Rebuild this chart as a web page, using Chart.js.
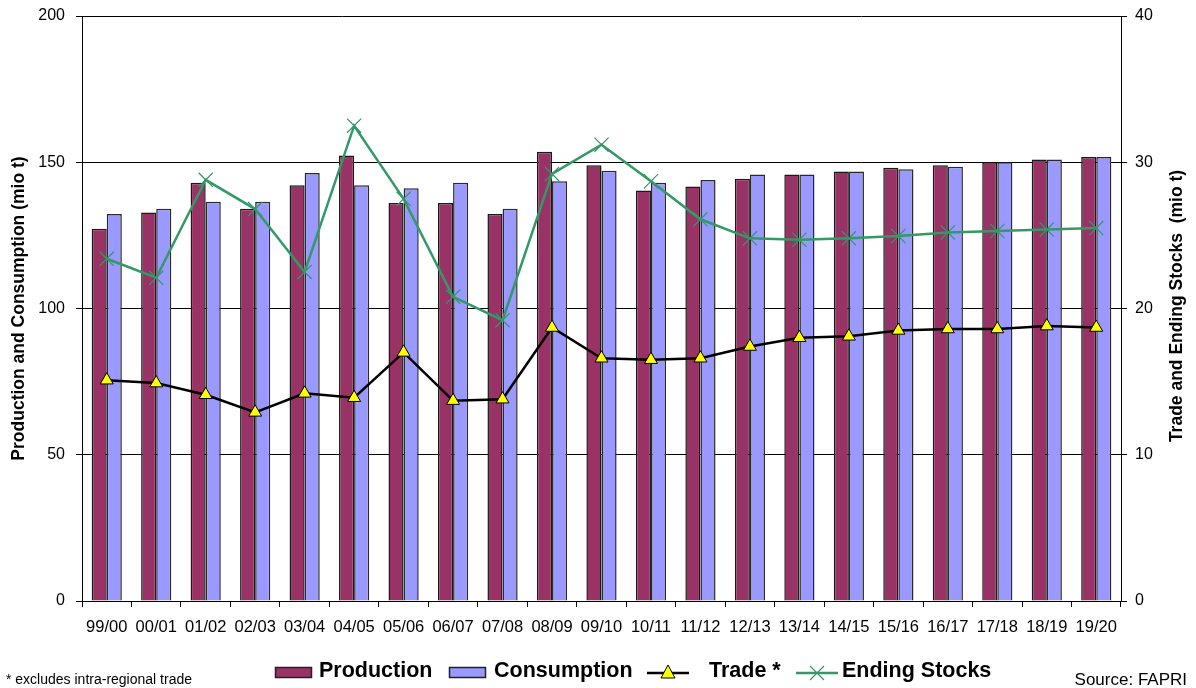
<!DOCTYPE html>
<html>
<head>
<meta charset="utf-8">
<script src="https://cdn.jsdelivr.net/npm/chart.js@4.4.1/dist/chart.umd.min.js"></script>
<style>
  html, body { margin: 0; padding: 0; background: #fff; }
  #wrap { width: 1196px; height: 688px; position: relative; }
</style>
</head>
<body>
<div id="wrap"><canvas id="c" width="1196" height="688"></canvas></div>
<script>
// Marketing years
const seasons = ['99/00', '00/01', '01/02', '02/03', '03/04', '04/05', '05/06', '06/07', '07/08', '08/09',
                 '09/10', '10/11', '11/12', '12/13', '13/14', '14/15', '15/16', '16/17', '17/18', '18/19', '19/20'];

// Left axis, mio t
const production  = [127.3, 132.8, 143.0, 134.1, 142.1, 152.3, 136.1, 136.1, 132.3, 153.6,
                     149.0, 140.3, 141.7, 144.4, 145.8, 146.8, 148.1, 149.0, 150.0, 150.9, 151.8];
const consumption = [132.3, 134.1, 136.5, 136.5, 146.3, 142.1, 141.1, 143.0, 134.1, 143.5,
                     147.1, 143.0, 143.9, 145.8, 145.8, 146.8, 147.6, 148.5, 150.0, 150.9, 151.8];

// Right axis, mio t
const trade        = [15.1, 14.9, 14.1, 12.9, 14.2, 13.9, 17.0, 13.7, 13.8, 18.7,
                      16.6, 16.5, 16.6, 17.4, 18.0, 18.1, 18.5, 18.6, 18.6, 18.8, 18.7];
const endingStocks = [23.4, 22.1, 28.8, 26.8, 22.5, 32.5, 27.5, 20.8, 19.2, 29.2,
                      31.2, 28.7, 26.1, 24.8, 24.7, 24.8, 24.95, 25.2, 25.3, 25.4, 25.5];

// Axis ranges and steps
const leftAxis  = { min: 0, max: 200, step: 50 };
const rightAxis = { min: 0, max: 40, step: 10 };

const leftTitle  = 'Production and Consumption (mio t)';
const rightTitle = 'Trade and Ending Stocks  (mio t)';
const footnote   = '* excludes intra-regional trade';
const sourceNote = 'Source: FAPRI';

const FONT = "'Liberation Sans', Arial, sans-serif";

const PROD_COL  = '#993366';
const CONS_COL  = '#9999FF';
const TRADE_COL = '#000000';
const STOCK_COL = '#339966';

// Right-hand title (reads bottom to top), legend row and notes
const annotations = {
  id: 'annotations',
  afterDraw(chart) {
    const ctx = chart.ctx;
    ctx.save();

    // right axis title
    ctx.fillStyle = '#000';
    ctx.font = 'bold 17.5px ' + FONT;
    ctx.textAlign = 'center';
    ctx.textBaseline = 'middle';
    ctx.translate(1177, 306);
    ctx.rotate(-Math.PI / 2);
    ctx.fillText(rightTitle, 0, 0);
    ctx.setTransform(1, 0, 0, 1, 0, 0);

    // legend
    const symX = [275, 449, 647, 796];
    const txtX = [319, 494, 709, 842];
    const ds = chart.data.datasets;
    ctx.font = 'bold 21.5px ' + FONT;
    ctx.textAlign = 'left';
    ctx.textBaseline = 'middle';
    ds.forEach((d, i) => {
      const x = symX[i];
      if (d.type === 'bar') {
        ctx.fillStyle = d.backgroundColor;
        ctx.fillRect(x, 667, 37, 11);
        ctx.strokeStyle = '#222';
        ctx.lineWidth = 1.5;
        ctx.strokeRect(x + 0.5, 667.5, 36, 10);
      } else {
        const cy = 673;
        ctx.strokeStyle = d.borderColor;
        ctx.lineWidth = 2.5;
        ctx.beginPath();
        ctx.moveTo(x, cy);
        ctx.lineTo(x + 42, cy);
        ctx.stroke();
        const cx = x + 21;
        if (d.pointStyle === 'triangle') {
          ctx.beginPath();
          ctx.moveTo(cx, cy - 8);
          ctx.lineTo(cx + 7, cy + 5);
          ctx.lineTo(cx - 7, cy + 5);
          ctx.closePath();
          ctx.fillStyle = d.pointBackgroundColor;
          ctx.fill();
          ctx.lineWidth = 1;
          ctx.strokeStyle = d.pointBorderColor;
          ctx.stroke();
        } else {
          ctx.strokeStyle = d.pointBorderColor;
          ctx.lineWidth = 1.2;
          ctx.beginPath();
          ctx.moveTo(cx - 7, cy - 7); ctx.lineTo(cx + 7, cy + 7);
          ctx.moveTo(cx + 7, cy - 7); ctx.lineTo(cx - 7, cy + 7);
          ctx.stroke();
        }
      }
      ctx.fillStyle = '#000';
      ctx.fillText(d.label, txtX[i], 671);
    });

    // notes
    ctx.font = '14px ' + FONT;
    ctx.fillText(footnote, 6, 680);
    ctx.font = '17px ' + FONT;
    ctx.textAlign = 'right';
    ctx.fillText(sourceNote, 1187, 680);

    ctx.restore();
  }
};

// fixed axis boxes so the plot area lands at x 82..1121, y 16..601
function fixVertical(width) {
  return function (scale) {
    scale.width = width;
    scale.paddingTop = 0;
    scale.paddingBottom = 0;
  };
}

new Chart(document.getElementById('c'), {
  type: 'bar',
  data: {
    labels: seasons,
    datasets: [
      {
        type: 'bar', label: 'Production', data: production, yAxisID: 'y',
        backgroundColor: PROD_COL, borderColor: '#1a1a1a', borderWidth: 1.5, order: 2,
        categoryPercentage: 0.61, barPercentage: 1.0
      },
      {
        type: 'bar', label: 'Consumption', data: consumption, yAxisID: 'y',
        backgroundColor: CONS_COL, borderColor: '#2a2a2a', borderWidth: 1.5, order: 2,
        categoryPercentage: 0.61, barPercentage: 1.0
      },
      {
        type: 'line', label: 'Trade *', data: trade, yAxisID: 'y2',
        borderColor: TRADE_COL, borderWidth: 2.5, tension: 0, fill: false,
        pointStyle: 'triangle', pointRadius: 7.5, pointHoverRadius: 7.5,
        pointBackgroundColor: '#FFFF00', pointBorderColor: '#000', pointBorderWidth: 1, order: 1
      },
      {
        type: 'line', label: 'Ending Stocks', data: endingStocks, yAxisID: 'y2',
        borderColor: STOCK_COL, borderWidth: 2.5, tension: 0, fill: false,
        pointStyle: 'crossRot', pointRadius: 10, pointHoverRadius: 10,
        pointBackgroundColor: STOCK_COL, pointBorderColor: STOCK_COL, pointBorderWidth: 1.2, order: 0
      }
    ]
  },
  options: {
    responsive: false,
    animation: false,
    devicePixelRatio: 1,
    events: [],
    layout: { padding: { top: 16, left: 0, right: 0, bottom: 0 } },
    plugins: {
      legend: { display: false },
      tooltip: { enabled: false },
      title: { display: false }
    },
    scales: {
      x: {
        type: 'category',
        offset: true,
        grid: { display: true, offset: true, drawOnChartArea: false, drawTicks: true, tickLength: 6, color: '#000', lineWidth: 1 },
        border: { display: true, color: '#000', width: 1 },
        ticks: { color: '#000', font: { family: FONT, size: 16.5 }, padding: 11, maxRotation: 0, autoSkip: false },
        afterFit(scale) { scale.height = 87; scale.paddingLeft = 0; scale.paddingRight = 0; }
      },
      y: {
        position: 'left',
        min: leftAxis.min, max: leftAxis.max,
        grid: { color: '#000', lineWidth: 1, tickLength: 6, drawOnChartArea: true },
        border: { display: true, color: '#000', width: 1 },
        ticks: { stepSize: leftAxis.step, color: '#000', font: { family: FONT, size: 16 }, padding: 11 },
        title: { display: true, text: leftTitle, color: '#000', font: { family: FONT, size: 17.5, weight: 'bold' }, padding: { top: 9, bottom: 0 } },
        afterFit: fixVertical(82)
      },
      y2: {
        position: 'right',
        min: rightAxis.min, max: rightAxis.max,
        grid: { color: '#000', lineWidth: 1, tickLength: 6, drawOnChartArea: false },
        border: { display: true, color: '#000', width: 1 },
        ticks: { stepSize: rightAxis.step, color: '#000', font: { family: FONT, size: 16 }, padding: 8 },
        afterFit: fixVertical(75)
      }
    }
  },
  plugins: [annotations]
});
</script>
</body>
</html>
